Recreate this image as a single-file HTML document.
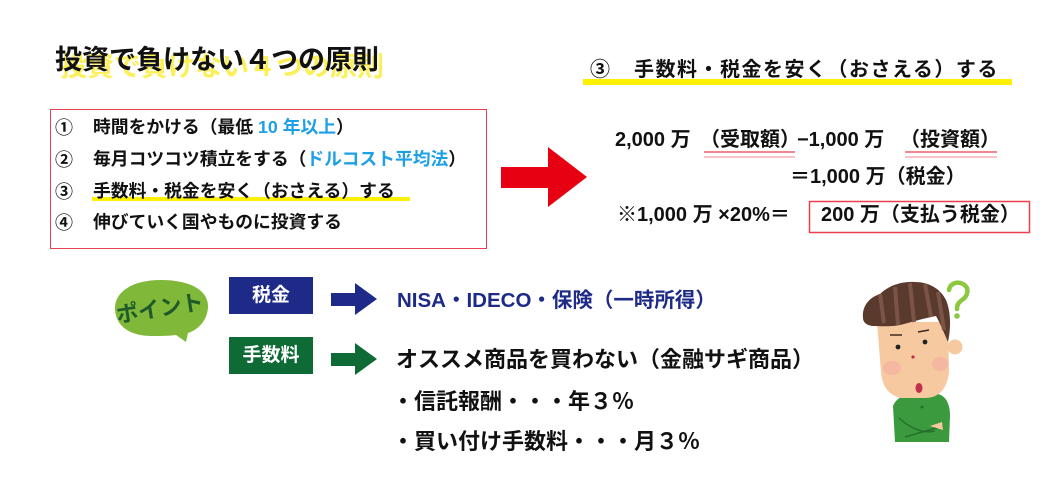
<!DOCTYPE html>
<html><head><meta charset="utf-8">
<style>
*{margin:0;padding:0;box-sizing:border-box}
body{width:1050px;height:500px;background:#fff;position:relative;overflow:hidden;font-family:"Liberation Sans","Noto Sans CJK JP",sans-serif;font-weight:bold;color:#111}
.a{position:absolute;white-space:nowrap;line-height:1}
.blue{color:#1ea0e6}
</style></head><body>

<!-- Title -->
<div class="a" style="left:55px;top:47px;font-size:27px;text-shadow:5px 7px 0 #fbf05a;">投資で負けない４つの原則</div>

<!-- Red list box -->
<div class="a" style="left:50px;top:109px;width:437px;height:140px;border:1.5px solid #e8404c;"></div>
<div class="a" style="left:92px;top:197px;width:318px;height:4px;background:#fdf000;"></div>
<div class="a" style="left:55px;top:119px;font-size:18px;">①</div>
<div class="a" style="left:93px;top:119px;font-size:17.8px;">時間をかける（最低 <span class="blue">10 年以上</span>）</div>
<div class="a" style="left:55px;top:151px;font-size:18px;">②</div>
<div class="a" style="left:93px;top:151px;font-size:17.8px;">毎月コツコツ積立をする（<span class="blue">ドルコスト平均法</span>）</div>
<div class="a" style="left:55px;top:183px;font-size:18px;">③</div>
<div class="a" style="left:93px;top:183px;font-size:17.8px;">手数料・税金を安く（おさえる）する</div>
<div class="a" style="left:55px;top:214px;font-size:18px;">④</div>
<div class="a" style="left:93px;top:214px;font-size:17.8px;">伸びていく国やものに投資する</div>

<!-- Red arrow -->
<svg class="a" style="left:0;top:0" width="1050" height="500">
  <polygon points="501,167 548,167 548,147 587,177 548,207 548,188 501,188" fill="#e60012"/>
  <!-- navy arrow -->
  <polygon points="331,293 355,293 355,283 377,299 355,315 355,306 331,306" fill="#1d2a88"/>
  <!-- green arrow -->
  <polygon points="331,353 355,353 355,343 377,359 355,375 355,366 331,366" fill="#0f6b35"/>
  <!-- point bubble -->
  <path d="M161,280 C193,280 208,292 208,306 C208,320 198,330 188,333 L186,342 L176,335 C168,336 160,336 152,336 C126,336 115,323 115,308 C115,292 132,280 161,280 Z" fill="#80b83a"/>
  <text x="160" y="316" font-size="22" font-weight="bold" fill="#1f5a2a" text-anchor="middle" transform="rotate(-9 160 309)" font-family="Liberation Sans, Noto Sans CJK JP, sans-serif">ポイント</text>

  <!-- underlines -->
  <line x1="704" y1="152" x2="795" y2="152" stroke="#e8404c" stroke-width="1.2"/>
  <line x1="704" y1="157" x2="795" y2="157" stroke="#f08a90" stroke-width="1"/>
  <line x1="905" y1="152" x2="997" y2="152" stroke="#e8404c" stroke-width="1.2"/>
  <line x1="905" y1="157" x2="997" y2="157" stroke="#f08a90" stroke-width="1"/>
  <rect x="809.5" y="201.5" width="220" height="31" fill="none" stroke="#e8404c" stroke-width="1.5"/>

  <!-- man -->
  <!-- body -->
  <path d="M893,406 C896,398 904,395 912,394 L938,394 C946,396 950,404 950,416 L949,442 L895,442 Z" fill="#3c9a3e"/>
  <path d="M899,418 C910,428 922,434 935,431 M905,437 C918,433 930,430 943,426" stroke="#23702a" stroke-width="1.5" fill="none"/>
  <path d="M930,426 L942,422 L943,430 Z" fill="#f6c9a0"/>
  <circle cx="922" cy="407" r="1.5" fill="#23702a"/>
  <!-- ear -->
  <circle cx="955" cy="347" r="7.5" fill="#f6c9a0"/>
  <!-- face -->
  <path d="M877,322 L948,322 L949,372 C947,390 938,398 925,398 L902,398 C888,396 882,385 881,372 Z" fill="#f6c9a0"/>
  <ellipse cx="892" cy="368" rx="9" ry="7" fill="#f3a9a0" opacity="0.55"/>
  <ellipse cx="940" cy="364" rx="8" ry="7" fill="#f3a9a0" opacity="0.55"/>
  <!-- hair -->
  <path d="M863,318 C862,307 868,298 880,294 C890,284 905,281 915,282 C928,282 940,288 946,300 C951,312 951,328 948,342 C944,333 940,323 936,316 C925,318 912,322 900,325 C890,327 880,326 872,326 C866,325 863,322 863,318 Z" fill="#5a3a2c"/>
  <path d="M880,294 L884,323 M895,287 L898,325 M910,283 L914,322 M925,284 L931,317 M938,292 L944,330" stroke="#7a5545" stroke-width="4" fill="none"/>
  <!-- eyebrows / eyes -->
  <path d="M890,335 L902,335 M918,332 L929,330" stroke="#3a2a20" stroke-width="1.5" fill="none"/>
  <circle cx="898" cy="347" r="2.4" fill="#222"/>
  <circle cx="925" cy="342" r="2.4" fill="#222"/>
  <circle cx="913" cy="357" r="1.6" fill="#c0304a"/>
  <ellipse cx="919" cy="388" rx="3.5" ry="5" fill="#c0304a"/>
  <!-- question mark -->
  <path d="M949,290 C950,283 958,281 963,284 C970,288 968,296 962,300 C958,303 957,305 957,309" stroke="#8dc63f" stroke-width="4.5" fill="none" stroke-linecap="round"/>
  <circle cx="957" cy="316" r="2.8" fill="#8dc63f"/>
</svg>

<!-- Right heading -->
<div class="a" style="left:583px;top:79px;width:429px;height:6px;background:#fdf000;"></div>
<div class="a" style="left:590px;top:60px;font-size:20px;">③</div>
<div class="a" style="left:634px;top:60px;font-size:20px;letter-spacing:1.5px;">手数料・税金を安く（おさえる）する</div>

<!-- Formula -->
<div class="a" style="left:615px;top:130px;font-size:20px;">2,000 万</div>
<div class="a" style="left:700px;top:130px;font-size:20px;">（受取額）</div>
<div class="a" style="left:797px;top:130px;font-size:20px;">−1,000 万</div>
<div class="a" style="left:900px;top:130px;font-size:20px;">（投資額）</div>
<div class="a" style="left:790px;top:167px;font-size:20px;">＝1,000 万（税金）</div>
<div class="a" style="left:617px;top:205px;font-size:20px;">※1,000 万 ×20%＝</div>
<div class="a" style="left:821px;top:205px;font-size:20px;">200 万（支払う税金）</div>

<!-- Points -->
<div class="a" style="left:229px;top:277px;width:84px;height:37px;background:#1d2a88;color:#fff;font-size:19px;text-align:center;line-height:37px;">税金</div>
<div class="a" style="left:229px;top:337px;width:84px;height:37px;background:#0f6b35;color:#fff;font-size:19px;text-align:center;line-height:37px;">手数料</div>

<div class="a" style="left:397px;top:291px;font-size:20.5px;color:#1d2a88;">NISA・IDECO・保険（一時所得）</div>
<div class="a" style="left:396px;top:349px;font-size:22px;">オススメ商品を買わない（金融サギ商品）</div>
<div class="a" style="left:392px;top:391px;font-size:22px;">・信託報酬・・・年３％</div>
<div class="a" style="left:392px;top:431px;font-size:22px;">・買い付け手数料・・・月３％</div>

</body></html>
